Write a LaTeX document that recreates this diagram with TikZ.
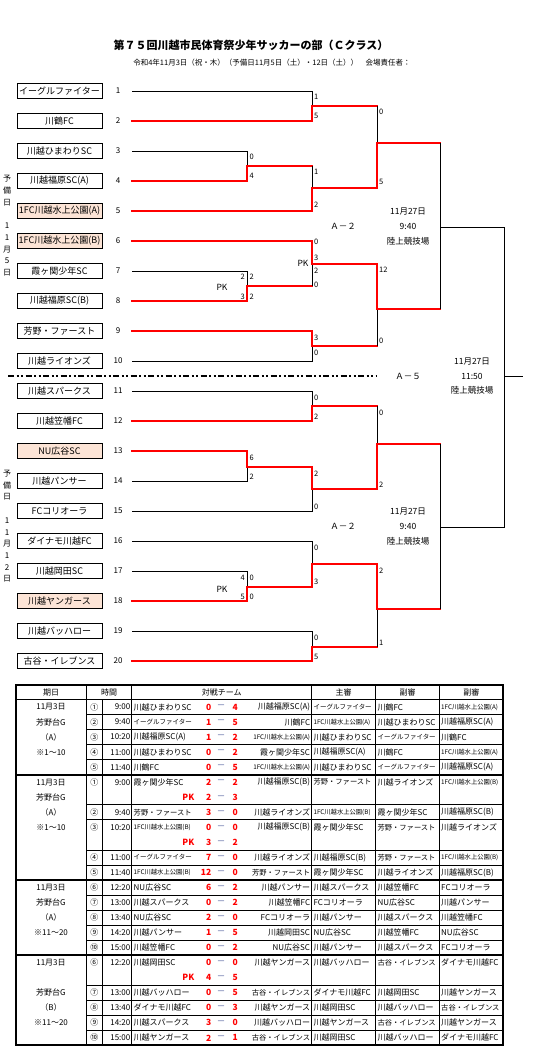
\documentclass[tikz,border=0pt]{standalone}
\usepackage{fontspec}
\setmainfont{Noto Sans CJK JP}
\usepackage{tikz}
\usetikzlibrary{positioning, calc}
\definecolor{bred}{HTML}{FF0000}
\definecolor{bpeach}{HTML}{FCE4D6}
\definecolor{bdash}{HTML}{4A5A9A}
% narrower names in the table
\newcommand{\sname}{\fontsize{7.3}{8}\selectfont}
\newcommand{\xsname}{\fontsize{6.5}{7}\selectfont}
\newcommand{\tname}{\fontsize{6.3}{7}\selectfont}
\tikzset{
  teambox/.style={draw=black, line width=0.9pt, minimum width=85pt, minimum height=15pt,
                  inner sep=0pt, font=\fontsize{9}{10}\selectfont},
  seedbox/.style={teambox, fill=bpeach},
  numlbl/.style={font=\fontsize{8}{9}\selectfont, inner sep=0pt},
  won/.style={bred, line width=2.8pt, line cap=rect},
  lost/.style={black, line width=0.8pt},
  scr/.style={font=\fontsize{7.5}{8}\selectfont, inner sep=0pt, anchor=west},
  scl/.style={scr, anchor=east},
  info/.style={font=\fontsize{8.5}{9}\selectfont, inner sep=0pt},
  sidelbl/.style={font=\fontsize{8}{11.7}\selectfont, align=center, inner sep=0pt},
  splitline/.style={black, line width=1.8pt,
                    dash pattern=on 6pt off 2.5pt on 2pt off 2.5pt on 2pt off 2.5pt},
  tcell/.style={font=\fontsize{8}{9}\selectfont, inner sep=0pt},
  tscore/.style={font=\fontsize{8.5}{9}\selectfont\bfseries, text=bred, inner sep=0pt},
  tdash/.style={font=\fontsize{8.5}{9}\selectfont, text=bdash, inner sep=0pt},
  tline/.style={black, line width=0.8pt},
  tframe/.style={black, line width=2pt},
}
% winner's line to the next column, then the vertical into the next match
\newcommand{\feed}[3]{\draw[won] (#1) -- (#1 -| #2); \draw[#3] (#1 -| #2) -- (#2);}
% one row of the schedule table
\newcommand{\game}[7]{%
  \node[tcell] (gc#1) at (94.3,{707.02+15.04*#1}) {#2};
  \node[tcell, anchor=east] (gt#1) at (130.5,{707.02+15.04*#1}) {#3};
  \node[tcell, anchor=west] (ga#1) at (133.5,{707.02+15.04*#1}) {#4};
  \node[tscore, anchor=east] (gs#1) at (211.5,{707.02+15.04*#1}) {#5};
  \node[tdash] (gd#1) at (221.2,{707.02+15.04*#1}) {－};
  \node[tscore, anchor=west] (gr#1) at (232.3,{707.02+15.04*#1}) {#6};
  \node[tcell, anchor=east] (gb#1) at (310.3,{707.02+15.04*#1}) {#7};
}
\newcommand{\refs}[4]{%
  \node[tcell, anchor=west] (ra#1) at (313.3,{707.02+15.04*#1}) {#2};
  \node[tcell, anchor=west] (rb#1) at (377.3,{707.02+15.04*#1}) {#3};
  \node[tcell, anchor=west] (rc#1) at (441,{707.02+15.04*#1}) {#4};
}
\newcommand{\pk}[3]{%
  \node[tscore, anchor=east] (pk#1) at (194.5,{707.02+15.04*#1}) {PK};
  \node[tscore, anchor=east] (ps#1) at (211.5,{707.02+15.04*#1}) {#2};
  \node[tdash] (pd#1) at (221.2,{707.02+15.04*#1}) {－};
  \node[tscore, anchor=west] (pt#1) at (232.3,{707.02+15.04*#1}) {#3};
}
\newcommand{\dcell}[2]{\node[tcell] (d#1) at (51,{707.02+15.04*#1}) {#2};}

\begin{document}
\begin{tikzpicture}[x=1pt, y=-1pt, line join=miter]
  \useasboundingbox (0,0) rectangle (544,1057);

  %% ── Title ──
  \node[font=\fontsize{11}{12}\selectfont\bfseries, inner sep=0pt] (title) at (251,45)
    {第７５回川越市民体育祭少年サッカーの部（Ｃクラス）};
  \node[font=\fontsize{7.5}{8}\selectfont, inner sep=0pt] (subtitle) at (272,63)
    {令和4年11月3日（祝・木）（予備日11月5日（土）・12日（土））　会場責任者：};

  %% ── Teams ──
  \foreach \i/\name/\sty in {1/イーグルファイター/teambox, 2/川鶴FC/teambox,
      3/川越ひまわりSC/teambox, 4/川越福原SC(A)/teambox, 5/1FC川越水上公園(A)/seedbox,
      6/1FC川越水上公園(B)/seedbox, 7/霞ヶ関少年SC/teambox, 8/川越福原SC(B)/teambox,
      9/芳野・ファースト/teambox, 10/川越ライオンズ/teambox, 11/川越スパークス/teambox,
      12/川越笠幡FC/teambox, 13/NU広谷SC/seedbox, 14/川越パンサー/teambox,
      15/FCコリオーラ/teambox, 16/ダイナモ川越FC/teambox, 17/川越岡田SC/teambox,
      18/川越ヤンガース/seedbox, 19/川越バッハロー/teambox, 20/古谷・イレブンス/teambox} {
    \node[\sty] (team\i) at (59.5,{91+30*(\i-1)}) {\name};
    \node[numlbl] (num\i) at (118,{91+30*(\i-1)}) {\i};
    \coordinate (s\i) at (132,{91+30*(\i-1)});
  }

  % reserve days
  \node[sidelbl] (spare1) at (7,225.8) {予\\備\\日\\[11.7pt]1\\1\\月\\5\\日};
  \node[sidelbl] (spare2) at (7,526.3) {予\\備\\日\\[11.7pt]1\\1\\月\\1\\2\\日};

  %% ── Match points ──
  \coordinate (ja34) at (247,166);   \coordinate (ja78) at (247,286);
  \coordinate (ja1314) at (247,467); \coordinate (ja1718) at (247,587);
  \coordinate (jb12) at (312,106);   \coordinate (jb45) at (312,188);
  \coordinate (jb68) at (312,264);   \coordinate (jb910) at (312,346);
  \coordinate (jb1112) at (312,406); \coordinate (jb15) at (312,489);
  \coordinate (jb16) at (312,564);   \coordinate (jb1920) at (312,647);
  \coordinate (jc1) at (377,143);    \coordinate (jc2) at (377,309);
  \coordinate (jc3) at (377,444);    \coordinate (jc4) at (377,609);
  \coordinate (jsA) at (440,227);    \coordinate (jsB) at (440,527);
  \coordinate (jfin) at (504,376);   \coordinate (jout) at (523,376);

  %% ── Bracket ──
  % first round
  \draw[lost] (s3) -| (ja34);    \draw[won] (s4) -| (ja34);
  \draw[lost] (s7) -| (ja78);    \draw[won] (s8) -| (ja78);
  \draw[lost] (s14) -| (ja1314); \draw[won] (s13) -| (ja1314);
  \draw[lost] (s17) -| (ja1718); \draw[won] (s18) -| (ja1718);
  % second round
  \draw[lost] (s1) -| (jb12);    \draw[won] (s2) -| (jb12);
  \feed{ja34}{jb45}{lost}        \draw[won] (s5) -| (jb45);
  \feed{ja78}{jb68}{lost}        \draw[won] (s6) -| (jb68);
  \draw[lost] (s10) -| (jb910);  \draw[won] (s9) -| (jb910);
  \draw[lost] (s11) -| (jb1112); \draw[won] (s12) -| (jb1112);
  \draw[lost] (s15) -| (jb15);   \feed{ja1314}{jb15}{won}
  \draw[lost] (s16) -| (jb16);   \feed{ja1718}{jb16}{won}
  \draw[lost] (s19) -| (jb1920); \draw[won] (s20) -| (jb1920);
  % third round
  \feed{jb12}{jc1}{lost}   \feed{jb45}{jc1}{won}
  \feed{jb910}{jc2}{lost}  \feed{jb68}{jc2}{won}
  \feed{jb1112}{jc3}{lost} \feed{jb15}{jc3}{won}
  \feed{jb1920}{jc4}{lost} \feed{jb16}{jc4}{won}
  % semi finals
  \feed{jc1}{jsA}{lost} \feed{jc2}{jsA}{lost}
  \feed{jc3}{jsB}{lost} \feed{jc4}{jsB}{lost}
  % final
  \draw[lost] (jsA) -| (jfin); \draw[lost] (jsB) -| (jfin);
  \draw[lost] (jfin) -- (jout);

  % split between the two halves
  \coordinate (splitL) at (8,376);
  \coordinate (splitR) at (376,376);
  \draw[splitline] (splitL) -- (splitR);

  %% ── Scores ──
  \node[scr] (c12a) at (314,97) {1};       \node[scr] (c12b) at (314,116) {5};
  \node[scr] (c34a) at (249.5,156.7) {0};  \node[scr] (c34b) at (249.5,175.7) {4};
  \node[scr] (c45a) at (314,172) {1};      \node[scr] (c45b) at (314,205) {2};
  \node[scl] (c78a) at (245,277) {2};      \node[scr] (c78b) at (249.5,277) {2};
  \node[scl] (c78c) at (245,297) {3};      \node[scr] (c78d) at (249.5,297) {2};
  \node[info] (pk78) at (222,287) {PK};
  \node[scr] (c68a) at (314,242) {0};      \node[scr] (c68b) at (314,257.5) {3};
  \node[scr] (c68c) at (314,271) {2};      \node[scr] (c68d) at (314,285) {0};
  \node[info] (pk68) at (303,263) {PK};
  \node[scr] (c910a) at (314,338) {3};     \node[scr] (c910b) at (314,353) {0};
  \node[scr] (cc1a) at (379,112) {0};      \node[scr] (cc1b) at (379,182) {5};
  \node[scr] (cc2a) at (379,270) {12};     \node[scr] (cc2b) at (379,341) {0};

  \node[scr] (c1112a) at (314,397.7) {0};  \node[scr] (c1112b) at (314,416.7) {2};
  \node[scr] (c1314a) at (249.5,458) {6};  \node[scr] (c1314b) at (249.5,476.7) {2};
  \node[scr] (c15a) at (314,473.3) {2};    \node[scr] (c15b) at (314,506.7) {0};
  \node[scr] (c16a) at (314,548.3) {0};    \node[scr] (c16b) at (314,581.7) {3};
  \node[scl] (c1718a) at (245,578.3) {4};  \node[scr] (c1718b) at (249.5,578.3) {0};
  \node[scl] (c1718c) at (245,596.7) {5};  \node[scr] (c1718d) at (249.5,596.7) {0};
  \node[info] (pk1718) at (222,589) {PK};
  \node[scr] (c1920a) at (314,638.3) {0};  \node[scr] (c1920b) at (314,657.3) {5};
  \node[scr] (cc3a) at (379,412.7) {0};    \node[scr] (cc3b) at (379,484.3) {2};
  \node[scr] (cc4a) at (379,570.7) {2};    \node[scr] (cc4b) at (379,642.7) {1};

  %% ── Venue notes ──
  \node[info] (gameA) at (343,226) {Ａ－２};
  \node[info] (dateA) at (408,211) {11月27日};
  \node[info] (timeA) at (408,226) {9:40};
  \node[info] (siteA) at (408,241) {陸上競技場};
  \node[info] (gameB) at (343,526.7) {Ａ－２};
  \node[info] (dateB) at (408,511.7) {11月27日};
  \node[info] (timeB) at (408,526.7) {9:40};
  \node[info] (siteB) at (408,541.7) {陸上競技場};
  \node[info] (gameF) at (408,376) {Ａ－５};
  \node[info] (dateF) at (472,361.7) {11月27日};
  \node[info] (timeF) at (472,376) {11:50};
  \node[info] (siteF) at (472,390.7) {陸上競技場};

  %% ── Schedule table ──
  \draw[tframe] (16,685) rectangle (503.3,1045);
  \draw[tline, line width=1.2pt] (16,699.5) -- (503.3,699.5);
  \foreach \k in {5,12,17} \draw[tframe] (16,{699.5+15.04*\k}) -- (503.3,{699.5+15.04*\k});
  \foreach \k in {1,2,3,4,7,8,10,11,13,14,15,16,19,20,21,22}
    \draw[tline] (86,{699.5+15.04*\k}) -- (503.3,{699.5+15.04*\k});
  \foreach \cx in {86,131.7,311.7,375.7,439.3} \draw[tline] (\cx,685) -- (\cx,1045);
  \draw[tline] (102.7,699.5) -- (102.7,1045);

  % header
  \node[tcell] (hday) at (51,692.5) {期日};
  \node[tcell] (htime) at (109,692.5) {時間};
  \node[tcell] (hteams) at (221.7,692.5) {対戦チーム};
  \node[tcell] (href) at (343.7,692.5) {主審};
  \node[tcell] (has1) at (407.5,692.5) {副審};
  \node[tcell] (has2) at (471.3,692.5) {副審};

  % days
  \dcell{0}{11月3日}  \dcell{1}{芳野台G}  \dcell{2}{（A）}  \dcell{3}{※1～10}
  \dcell{5}{11月3日}  \dcell{6}{芳野台G}  \dcell{7}{（A）}  \dcell{8}{※1～10}
  \dcell{12}{11月3日} \dcell{13}{芳野台G} \dcell{14}{（A）} \dcell{15}{※11～20}
  \dcell{17}{11月3日} \dcell{19}{芳野台G} \dcell{20}{（B）} \dcell{21}{※11～20}

  % games 1-10
  \game{0}{①}{9:00}{川越ひまわりSC}{0}{4}{川越福原SC(A)}
  \refs{0}{\xsname イーグルファイター}{川鶴FC}{\tname 1FC川越水上公園(A)}
  \game{1}{②}{9:40}{\xsname イーグルファイター}{1}{5}{川鶴FC}
  \refs{1}{\tname 1FC川越水上公園(A)}{川越ひまわりSC}{川越福原SC(A)}
  \game{2}{③}{10:20}{川越福原SC(A)}{1}{2}{\tname 1FC川越水上公園(A)}
  \refs{2}{川越ひまわりSC}{\xsname イーグルファイター}{川鶴FC}
  \game{3}{④}{11:00}{川越ひまわりSC}{0}{2}{霞ヶ関少年SC}
  \refs{3}{川越福原SC(A)}{川鶴FC}{\tname 1FC川越水上公園(A)}
  \game{4}{⑤}{11:40}{川鶴FC}{0}{5}{\tname 1FC川越水上公園(A)}
  \refs{4}{川越ひまわりSC}{\xsname イーグルファイター}{川越福原SC(A)}

  \game{5}{①}{9:00}{霞ヶ関少年SC}{2}{2}{川越福原SC(B)}
  \refs{5}{\sname 芳野・ファースト}{川越ライオンズ}{\tname 1FC川越水上公園(B)}
  \pk{6}{2}{3}
  \game{7}{②}{9:40}{\sname 芳野・ファースト}{3}{0}{川越ライオンズ}
  \refs{7}{\tname 1FC川越水上公園(B)}{霞ヶ関少年SC}{川越福原SC(B)}
  \game{8}{③}{10:20}{\tname 1FC川越水上公園(B)}{0}{0}{川越福原SC(B)}
  \refs{8}{霞ヶ関少年SC}{\sname 芳野・ファースト}{川越ライオンズ}
  \pk{9}{3}{2}
  \game{10}{④}{11:00}{\xsname イーグルファイター}{7}{0}{川越ライオンズ}
  \refs{10}{川越福原SC(B)}{\sname 芳野・ファースト}{\tname 1FC川越水上公園(B)}
  \game{11}{⑤}{11:40}{\tname 1FC川越水上公園(B)}{12}{0}{\sname 芳野・ファースト}
  \refs{11}{霞ヶ関少年SC}{川越ライオンズ}{川越福原SC(B)}

  % games 11-20
  \game{12}{⑥}{12:20}{NU広谷SC}{6}{2}{川越パンサー}
  \refs{12}{川越スパークス}{川越笠幡FC}{FCコリオーラ}
  \game{13}{⑦}{13:00}{川越スパークス}{0}{2}{川越笠幡FC}
  \refs{13}{FCコリオーラ}{NU広谷SC}{川越パンサー}
  \game{14}{⑧}{13:40}{NU広谷SC}{2}{0}{FCコリオーラ}
  \refs{14}{川越パンサー}{川越スパークス}{川越笠幡FC}
  \game{15}{⑨}{14:20}{川越パンサー}{1}{5}{川越岡田SC}
  \refs{15}{NU広谷SC}{川越笠幡FC}{NU広谷SC}
  \game{16}{⑩}{15:00}{川越笠幡FC}{0}{2}{NU広谷SC}
  \refs{16}{川越パンサー}{川越スパークス}{FCコリオーラ}

  \game{17}{⑥}{12:20}{川越岡田SC}{0}{0}{川越ヤンガース}
  \refs{17}{川越バッハロー}{\sname 古谷・イレブンス}{ダイナモ川越FC}
  \pk{18}{4}{5}
  \game{19}{⑦}{13:00}{川越バッハロー}{0}{5}{\sname 古谷・イレブンス}
  \refs{19}{ダイナモ川越FC}{川越岡田SC}{川越ヤンガース}
  \game{20}{⑧}{13:40}{ダイナモ川越FC}{0}{3}{川越ヤンガース}
  \refs{20}{川越岡田SC}{川越バッハロー}{\sname 古谷・イレブンス}
  \game{21}{⑨}{14:20}{川越スパークス}{3}{0}{川越バッハロー}
  \refs{21}{川越ヤンガース}{\sname 古谷・イレブンス}{川越ヤンガース}
  \game{22}{⑩}{15:00}{川越ヤンガース}{2}{1}{\sname 古谷・イレブンス}
  \refs{22}{川越岡田SC}{川越バッハロー}{ダイナモ川越FC}
\end{tikzpicture}
\end{document}
